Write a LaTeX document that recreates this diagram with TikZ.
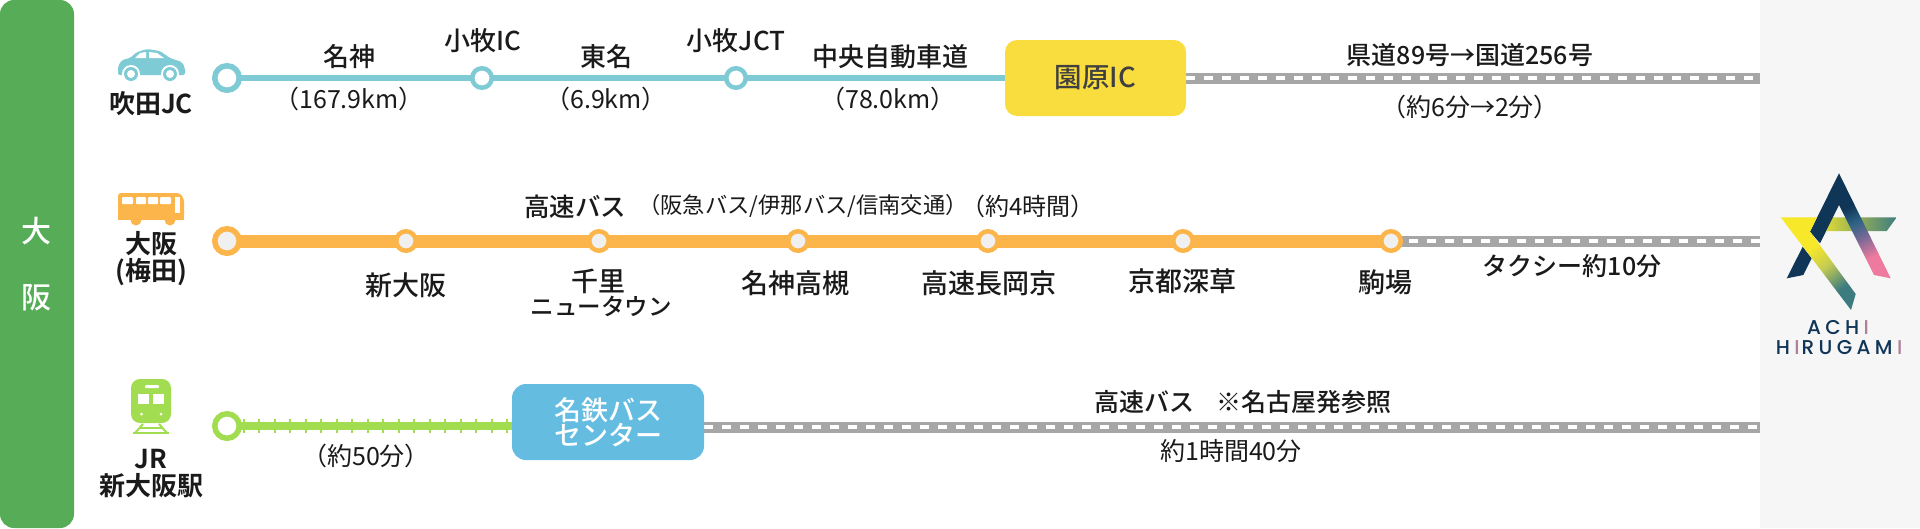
\documentclass[tikz,border=0pt]{standalone}
\usepackage{fontspec}
\setmainfont{Noto Sans CJK JP}
\newfontfamily\jpm{Noto Sans CJK JP Medium}
\newfontfamily\jpb{Noto Sans CJK JP Bold}
\newfontfamily\logofont[LetterSpace=22]{Poppins Medium}
\newcommand{\szpx}[1]{\fontsize{#1}{#1}\selectfont}
\newcommand{\logoI}{\kern0.22em\textcolor{lgi}{I}}
\definecolor{panelbar}{HTML}{56AC57}
\definecolor{teal}{HTML}{7FCBD5}
\definecolor{orng}{HTML}{FBB54A}
\definecolor{lime}{HTML}{A2DC50}
\definecolor{roadg}{HTML}{A6A6A6}
\definecolor{yel}{HTML}{F9DC3E}
\definecolor{sky}{HTML}{64BDE0}
\definecolor{ink}{HTML}{1A1A1A}
\definecolor{navy}{HTML}{0F3557}
\definecolor{lgy}{HTML}{F8E82A}
\definecolor{lgo}{HTML}{C4CB52}
\definecolor{lgt}{HTML}{3C7C80}
\definecolor{lgm}{HTML}{2F6485}
\definecolor{lgv}{HTML}{7A6A96}
\definecolor{lgp}{HTML}{EE7AA0}
\definecolor{lgi}{HTML}{B08098}
\pgfdeclareverticalshading{legshade}{100bp}{color(0bp)=(lgp); color(32bp)=(lgp); color(44bp)=(lgv); color(54bp)=(lgm); color(64bp)=(navy); color(100bp)=(navy)}
\pgfdeclareverticalshading{stripeshade}{100bp}{color(0bp)=(lgt); color(30bp)=(lgt); color(46bp)=(lgo); color(60bp)=(lgy); color(100bp)=(lgy)}
\pgfdeclarelayer{lines}
\pgfsetlayers{lines,main}
\tikzset{
  lab/.style={inner sep=0,text=ink,font=\jpm\szpx{26}},
  labrow/.style={inner sep=0,text=ink,font=\jpm\szpx{27}},
  labtop/.style={inner sep=0,text=ink,font=\jpm\szpx{25}},
  sub/.style={inner sep=0,text=ink,font=\szpx{25}},
  place/.style={inner sep=0,align=center,text=ink,font=\jpb\szpx{26}},
  bigstop/.style={circle,draw=#1,line width=5.5pt,fill=white,minimum size=24.5pt,inner sep=0},
  smallstop/.style={circle,draw=#1,line width=4.5pt,fill=white,minimum size=19.5pt,inner sep=0},
  bigstopo/.style={circle,draw=orng,line width=5.5pt,fill=black!6,minimum size=24.5pt,inner sep=0},
  smallstopo/.style={circle,draw=orng,line width=4.5pt,fill=black!6,minimum size=19.5pt,inner sep=0},
  roadbed/.style={draw=roadg,line width=11pt},
  roaddash/.style={draw=white,line width=3.5pt,dash pattern=on 9pt off 9pt},
}
\begin{document}
\begin{tikzpicture}[x=1pt,y=-1pt]
\useasboundingbox (0,0) rectangle (1920,528);
% panels
\fill[black!3.5] (1760,0) rectangle (1920,528);
\fill[panelbar,rounded corners=14pt] (0,0) rectangle (74,528);
\node[inner sep=0,text=white,font=\jpm\szpx{30}] (osaka1) at (36,231) {大};
\node[inner sep=0,text=white,font=\jpm\szpx{30}] (osaka2) at (36,298) {阪};

% ---------- row 1
\coordinate (e1) at (1760,78);
\node[bigstop=teal] (s1) at (227,78) {};
\node[smallstop=teal] (ic) at (482,78) {};
\node[smallstop=teal] (jct) at (736,78) {};
\node[fill=yel,rounded corners=12pt,minimum width=181pt,minimum height=76pt,inner sep=0,text=black!75,font=\jpm\szpx{27.5}] (sono) at (1095.5,78) {園原IC};
\begin{pgfonlayer}{lines}
\draw[teal,line width=6pt] (s1.center) -- (ic.center);
\draw[teal,line width=6pt] (ic.center) -- (jct.center);
\draw[teal,line width=6pt] (jct.center) -- (sono.center);
\draw[roadbed] (sono.east) -- (e1);
\draw[roaddash] (sono.east) -- (e1);
\end{pgfonlayer}
\node[lab] (t1) at (349,57) {名神};
\node[lab] (t2) at (483,41) {小牧IC};
\node[lab] (t3) at (606,57) {東名};
\node[lab] (t4) at (736,41) {小牧JCT};
\node[lab] (t5) at (890,57) {中央自動車道};
\node[sub] (d1) at (349,99) {（167.9km）};
\node[sub] (d2) at (606,99) {（6.9km）};
\node[sub] (d3) at (888,99) {（78.0km）};
\node[labtop] (t6) at (1470,55) {県道89号→国道256号};
\node[sub] (d4) at (1470,107) {（約6分→2分）};
\node[place] (p1) at (151,104) {吹田JC};
% car icon
\fill[teal,rounded corners=2pt] (118,75) -- (118,66) -- (122,60) -- (130,58) -- (137,52) -- (147,49) -- (160,51) -- (170,58) -- (182,62) -- (185,68) -- (185,75) -- cycle;
\fill[white] (135,58) -- (140,53) -- (146,52) -- (146,58) -- cycle;
\fill[white] (149,52) -- (157,53) -- (164,58) -- (149,58) -- cycle;
\foreach \wx in {131,170}{
  \fill[white] (\wx,74) circle (9);
  \fill[teal] (\wx,74) circle (7);
  \fill[white] (\wx,74) circle (4);
}

% ---------- row 2
\coordinate (e2) at (1760,241);
\node[bigstopo] (s2) at (227,241) {};
\node[smallstopo] (b1) at (406,241) {};
\node[smallstopo] (b2) at (599,241) {};
\node[smallstopo] (b3) at (798,241) {};
\node[smallstopo] (b4) at (988,241) {};
\node[smallstopo] (b5) at (1183,241) {};
\node[smallstopo] (b6) at (1391,241) {};
\begin{pgfonlayer}{lines}
\draw[orng,line width=13pt] (s2.center) -- (b1.center);
\draw[orng,line width=13pt] (b1.center) -- (b2.center);
\draw[orng,line width=13pt] (b2.center) -- (b3.center);
\draw[orng,line width=13pt] (b3.center) -- (b4.center);
\draw[orng,line width=13pt] (b4.center) -- (b5.center);
\draw[orng,line width=13pt] (b5.center) -- (b6.center);
\draw[roadbed] (b6.center) -- (e2);
\draw[roaddash] (b6.center) -- (e2);
\end{pgfonlayer}
\node[inner sep=0,text=ink,font=\jpm\szpx{25.5}] (u1) at (575,207) {高速バス};
\node[inner sep=0,text=ink,font=\szpx{22.3}] (u2) at (803,206) {（阪急バス/伊那バス/信南交通）};
\node[inner sep=0,text=ink,font=\szpx{24}] (u3) at (1028,206) {（約4時間）};
\node[labrow] (n1) at (406,285) {新大阪};
\node[labrow] (n2a) at (598,281) {千里};
\node[inner sep=0,text=ink,font=\jpm\szpx{23.5}] (n2b) at (601,306) {ニュータウン};
\node[labrow] (n3) at (795,283) {名神高槻};
\node[labrow] (n4) at (989,283) {高速長岡京};
\node[labrow] (n5) at (1182,281) {京都深草};
\node[labrow] (n6) at (1385,282) {駒場};
\node[labtop] (n7) at (1572,266) {タクシー約10分};
\node[place] (p2) at (151,259) {大阪\\[1pt](梅田)};
% bus icon
\fill[orng,rounded corners=3pt] (118,219) -- (118,193) -- (180,193) -- (184,199) -- (184,219) -- cycle;
\fill[orng] (118,216) rectangle (184,219.5);
\fill[orng] (136,220) circle (5.5);
\fill[orng] (170,220) circle (5.5);
\fill[white,rounded corners=1pt] (122,197) rectangle (133,204);
\fill[white,rounded corners=1pt] (136,197) rectangle (146,204);
\fill[white,rounded corners=1pt] (148,197) rectangle (158,204);
\fill[white,rounded corners=1pt] (160,197) rectangle (171,204);
\fill[white] (175,197) rectangle (180,213);

% ---------- row 3
\coordinate (e3) at (1760,427);
\node[bigstop=lime] (s3) at (227,426) {};
\node[fill=sky,rounded corners=14pt,minimum width=192pt,minimum height=76pt,inner sep=0,align=center,text=white,font=\jpm\szpx{27}] (meitetsu) at (608,422) {名鉄バス\\[-2pt]センター};
\begin{pgfonlayer}{lines}
\draw[lime,line width=8pt] (s3.center) -- (meitetsu.center |- s3);
\draw[lime,line width=14pt,dash pattern=on 2pt off 13.5pt] (s3.center) -- (meitetsu.west |- s3);
\draw[roadbed] (meitetsu.east |- e3) -- (e3);
\draw[roaddash] (meitetsu.east |- e3) -- (e3);
\end{pgfonlayer}
\node[labtop] (v1) at (1243,402) {高速バス\hspace{0.9em}※名古屋発参照};
\node[sub] (v2) at (1231,451) {約1時間40分};
\node[sub] (v3) at (366,456) {（約50分）};
\node[place] (p3) at (151,474) {JR\\[1pt]新大阪駅};
% train icon
\fill[lime,rounded corners=9pt] (131,423) -- (131,379) -- (171,379) -- (171,423) -- cycle;
\fill[white,rounded corners=1pt] (145,385) rectangle (159,388);
\fill[white] (138,394) rectangle (149,404);
\fill[white] (153,394) rectangle (164,404);
\fill[white] (141.5,414) circle (1.5);
\fill[white] (161,414) circle (1.5);
\draw[lime,line width=2pt] (143,424) -- (135,433);
\draw[lime,line width=2pt] (159,424) -- (167,433);
\draw[lime,line width=2pt] (133,433) -- (169,433);
\draw[lime,line width=2pt] (139,428) -- (163,428);

% ---------- logo
\shade[left color=lgy!85!lgt,right color=lgt] (1826,231) -- (1830,217.3) -- (1896.7,217.3) -- (1886.7,231) -- cycle;
\fill[navy] (1839,173.3) -- (1839,205) -- (1820,243.3) -- (1810,231.7) -- cycle;
\fill[navy] (1802.7,246.7) -- (1811.7,258.3) -- (1803.3,275) -- (1786.7,278.3) -- cycle;
\shade[shading=legshade,shading angle=26] (1839,173.3) -- (1890.7,278.3) -- (1874,275) -- (1839,205) -- cycle;
\shade[shading=stripeshade,shading angle=37] (1780.7,217.3) -- (1817,217.3) -- (1810,231.7) -- (1855.7,294) -- (1851,310) -- cycle;
\node[inner sep=0,text=navy,font=\logofont\szpx{20}] (logo1) at (1838,328) {ACH\logoI};
\node[inner sep=0,text=navy,font=\logofont\szpx{20}] (logo2) at (1839,348) {H\logoI\kern0.1em RUGAM\logoI};
\end{tikzpicture}
\end{document}
